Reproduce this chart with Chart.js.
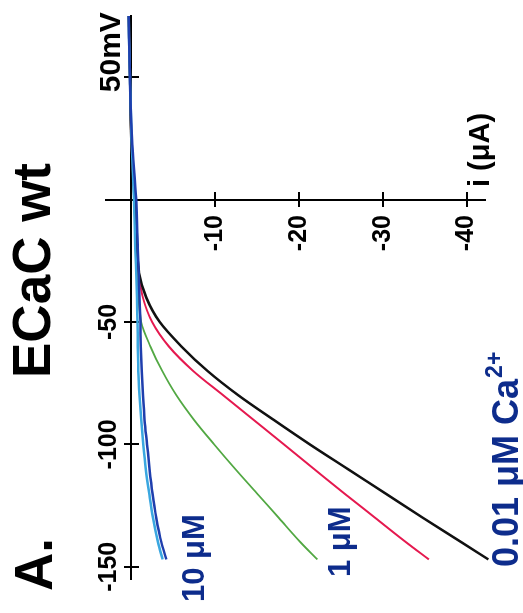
<!DOCTYPE html>
<html>
<head>
<meta charset="utf-8">
<script src="https://cdn.jsdelivr.net/npm/chart.js@4"></script>
<style>
  html, body { margin: 0; padding: 0; background: #fff; }
  body { width: 523px; height: 613px; overflow: hidden; position: relative; }
  /* the figure is printed a quarter turn round, so draw it upright and turn it */
  #wrap { position: absolute; left: 0; top: 0; width: 613px; height: 523px;
          transform-origin: 0 0; transform: translateY(613px) rotate(-90deg); }
</style>
</head>
<body>
<div id="wrap"><canvas id="ivChart" width="613" height="523"></canvas></div>
<script>
// Data: membrane voltage (mV) and current (µA) per Ca2+ concentration
const voltages = [-147, -140, -130, -120, -110, -100, -90, -80, -70, -60, -50, -40, -30, -20, 0, 25, 50, 75];
const current001uM = [-42.6, -39.4, -34.8, -30.3, -25.8, -21.3, -17.0, -12.8, -9.1, -6.0, -3.4, -1.8, -0.95, -0.7, -0.4, 0.0, 0.15, 0.3];
const current01uM  = [-35.5, -32.8, -29.1, -25.4, -21.8, -18.2, -14.6, -11.0, -7.4, -4.5, -2.5, -1.4, -0.9, -0.7, -0.4, 0.0, 0.15, 0.3];
const current1uM   = [-22.2, -20.2, -17.6, -15.0, -12.4, -9.9, -7.5, -5.4, -3.7, -2.3, -1.2, -0.9, -0.8, -0.6, -0.4, 0.0, 0.15, 0.3];
const current10uMa = [-4.2, -3.6, -3.0, -2.55, -2.2, -1.9, -1.6, -1.4, -1.25, -1.15, -1.1, -1.0, -0.9, -0.8, -0.6, -0.1, 0.15, 0.3];
const current10uMb = [-3.75, -3.2, -2.6, -2.15, -1.75, -1.45, -1.2, -1.0, -0.85, -0.8, -0.75, -0.7, -0.6, -0.5, -0.35, -0.05, 0.15, 0.3];

const voltageTicks = [-150, -100, -50, 50];
const currentTicks = [-10, -20, -30, -40];

const FONT = "'Liberation Sans', Arial, sans-serif";
const NAVY = '#0d2c8c';

function pts(cur) {
  return voltages.map((v, i) => ({ x: v, y: cur[i] }));
}

function curve(data, color, width) {
  return {
    data: pts(data),
    borderColor: color,
    borderWidth: width,
    showLine: true,
    pointRadius: 0,
    cubicInterpolationMode: 'monotone',
    clip: false
  };
}

const setVoltageTicks = s => { s.ticks = voltageTicks.map(v => ({ value: v })); };
const setCurrentTicks = s => { s.ticks = currentTicks.map(v => ({ value: v })); };

const hidden = { display: false };
const tickFont = { family: FONT, size: 25, weight: 'bold' };
const mvFont = { family: FONT, size: 30, weight: 'bold' };

// text that is not part of an axis
const figureText = {
  id: 'figureText',
  afterDraw(chart) {
    const ctx = chart.ctx;
    ctx.save();
    ctx.fillStyle = '#000';
    ctx.textBaseline = 'alphabetic';
    ctx.font = 'bold 53px ' + FONT;
    ctx.textAlign = 'left';
    ctx.fillText('A.', 22, 52);
    ctx.textAlign = 'right';
    ctx.fillText('ECaC wt', 450, 50);

    ctx.textAlign = 'left';
    ctx.font = 'bold 29px ' + FONT;
    ctx.fillText('i (μA)', 426, 489);

    ctx.fillStyle = NAVY;
    ctx.font = 'bold 31px ' + FONT;
    ctx.fillText('10 μM', 11, 204);
    ctx.fillText('1 μM', 36, 350);
    ctx.font = 'bold 36px ' + FONT;
    ctx.fillText('0.01 μM Ca', 46, 518);
    const w = ctx.measureText('0.01 μM Ca').width;
    ctx.font = 'bold 23px ' + FONT;
    ctx.fillText('2+', 46 + w + 1, 502);
    ctx.restore();
  }
};

new Chart(document.getElementById('ivChart'), {
  type: 'scatter',
  data: {
    datasets: [
      curve(current10uMa, '#1f3fae', 2.5),
      curve(current10uMb, '#3aa7e0', 2.5),
      curve(current001uM, '#111111', 2.5),
      curve(current01uM, '#e5194f', 2),
      curve(current1uM, '#52a843', 1.8)
    ]
  },
  options: {
    responsive: false,
    animation: false,
    layout: { padding: { left: 34, right: 16, top: 106, bottom: 38 } },
    plugins: { legend: hidden, tooltip: { enabled: false } },
    scales: {
      x: {
        type: 'linear', min: -155, max: 75, position: { y: 0 },
        grid: hidden, ticks: hidden,
        border: { display: true, color: '#000', width: 2 }
      },
      y: {
        type: 'linear', min: -42.2, max: 3, position: { x: 0 },
        grid: hidden, ticks: hidden,
        border: { display: true, color: '#000', width: 2 }
      },
      // tick marks crossing the voltage axis
      xMarks: {
        axis: 'x', type: 'linear', min: -155, max: 75, position: { y: 0.9 },
        afterBuildTicks: setVoltageTicks,
        grid: { display: true, drawOnChartArea: false, drawTicks: true, tickLength: 15, color: '#000', lineWidth: 2 },
        border: hidden, ticks: hidden
      },
      // voltage tick labels, above the axis
      xLabels: {
        axis: 'x', type: 'linear', min: -155, max: 75, position: { y: 4.45 },
        afterBuildTicks: setVoltageTicks,
        grid: { display: false, drawTicks: false },
        border: hidden,
        ticks: {
          color: '#000', padding: 0, autoSkip: false,
          minRotation: 0, maxRotation: 0,
          font: c => (c.tick && c.tick.value === 50) ? mvFont : tickFont,
          callback: v => v === 50 ? '      50mV' : String(v)
        }
      },
      // tick marks crossing the current axis
      yMarks: {
        axis: 'y', type: 'linear', min: -42.2, max: 3, position: { x: 3.06 },
        afterBuildTicks: setCurrentTicks,
        grid: { display: true, drawOnChartArea: false, drawTicks: true, tickLength: 15, color: '#000', lineWidth: 2 },
        border: hidden, ticks: hidden
      },
      // current tick labels, left of the axis
      yLabels: {
        axis: 'y', type: 'linear', min: -42.2, max: 3, position: { x: -6.3 },
        afterBuildTicks: setCurrentTicks,
        grid: { display: false, drawTicks: false },
        border: hidden,
        ticks: { color: '#000', font: tickFont, padding: 0, autoSkip: false, callback: v => String(v) }
      }
    }
  },
  plugins: [figureText]
});
</script>
</body>
</html>
